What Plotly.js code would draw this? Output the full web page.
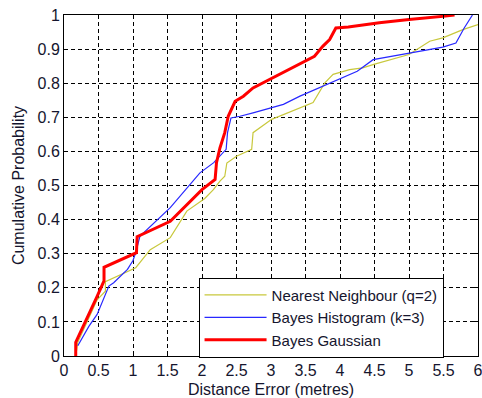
<!DOCTYPE html>
<html>
<head>
<meta charset="utf-8">
<script src="https://cdn.plot.ly/plotly-3.0.1.min.js"></script>
<style>html,body{margin:0;padding:0;background:#fff;}#chart{width:482px;height:398px;}</style>
</head>
<body>
<div id="chart"></div>
<script>
// Series data (x = distance error in metres, y = cumulative probability)
const nnX = [0.17, 0.2, 0.48, 0.6, 0.6, 1.04, 1.25, 1.54, 1.78, 2.04, 2.165, 2.26, 2.33, 2.36, 2.5, 2.72, 2.74, 3.01, 3.61, 3.78, 3.9, 4.14, 4.33, 4.49, 5.0, 5.3, 5.49, 5.78, 6.0];
const nnY = [0, 0.04, 0.165, 0.19, 0.218, 0.259, 0.312, 0.347, 0.425, 0.462, 0.488, 0.513, 0.527, 0.566, 0.586, 0.606, 0.655, 0.694, 0.743, 0.801, 0.826, 0.84, 0.845, 0.855, 0.884, 0.923, 0.933, 0.957, 0.972];

const bhX = [0.2, 0.36, 0.48, 0.65, 0.72, 0.92, 1.0, 1.04, 1.1, 1.54, 1.97, 2.17, 2.35, 2.37, 2.42, 2.55, 2.74, 3.18, 3.42, 3.8, 4.14, 4.25, 4.48, 5.0, 5.49, 5.68, 5.8, 5.92];
const bhY = [0.03, 0.087, 0.122, 0.205, 0.215, 0.254, 0.28, 0.303, 0.351, 0.435, 0.537, 0.567, 0.606, 0.655, 0.698, 0.703, 0.713, 0.738, 0.762, 0.796, 0.826, 0.835, 0.869, 0.889, 0.906, 0.918, 0.962, 1.0];

const bgX = [0.17, 0.17, 0.48, 0.58, 0.58, 1.05, 1.06, 1.54, 2.0, 2.19, 2.21, 2.26, 2.33, 2.38, 2.48, 2.6, 2.74, 2.98, 3.27, 3.51, 3.63, 3.75, 3.85, 3.94, 4.12, 4.57, 5.0, 5.49, 5.66];
const bgY = [0, 0.04, 0.175, 0.22, 0.26, 0.303, 0.35, 0.395, 0.488, 0.518, 0.567, 0.61, 0.655, 0.703, 0.747, 0.762, 0.786, 0.811, 0.84, 0.865, 0.879, 0.908, 0.928, 0.962, 0.965, 0.977, 0.987, 0.996, 1.0];

const seriesNames = ["Nearest Neighbour (q=2)", "Bayes Histogram (k=3)", "Bayes Gaussian"];

const xTickVals = [0, 0.5, 1, 1.5, 2, 2.5, 3, 3.5, 4, 4.5, 5, 5.5, 6];
const xTickText = ["0", "0.5", "1", "1.5", "2", "2.5", "3", "3.5", "4", "4.5", "5", "5.5", "6"];
const yTickVals = [0, 0.1, 0.2, 0.3, 0.4, 0.5, 0.6, 0.7, 0.8, 0.9, 1];
const yTickText = ["0", "0.1", "0.2", "0.3", "0.4", "0.5", "0.6", "0.7", "0.8", "0.9", "1"];

const xTitle = "Distance Error (metres)";
const yTitle = "Cumulative Probability";

const FONT = "Arial, 'Liberation Sans', sans-serif";
const TXT = "#15152e";

const traces = [
  {x: nnX, y: nnY, name: seriesNames[0], mode: "lines", line: {color: "rgb(200,200,60)", width: 1.2}},
  {x: bhX, y: bhY, name: seriesNames[1], mode: "lines", line: {color: "rgb(40,40,255)", width: 1.2}},
  {x: bgX, y: bgY, name: seriesNames[2], mode: "lines", line: {color: "rgb(255,0,0)", width: 3}}
];

const axisCommon = {
  showline: true, linecolor: "#000", linewidth: 1, mirror: "ticks",
  ticks: "inside", ticklen: 4, tickcolor: "#000", tickwidth: 1,
  showgrid: true, gridcolor: "#000", gridwidth: 1, griddash: "4px,3px",
  zeroline: false, ticklabeloverflow: "allow",
  tickfont: {family: FONT, size: 16, color: TXT}
};

const layout = {
  width: 482, height: 398,
  margin: {l: 63.5, r: 3.5, t: 15.3, b: 41.5, pad: 0},
  paper_bgcolor: "#fff", plot_bgcolor: "#fff",
  showlegend: true,
  legend: {
    x: 0.325, y: 0.23, xanchor: "left", yanchor: "top",
    bgcolor: "#fff", bordercolor: "#000", borderwidth: 1,
    font: {family: FONT, size: 15, color: TXT},
    itemwidth: 62, tracegroupgap: 0,
    entrywidth: 275, entrywidthmode: "pixels"
  },
  xaxis: Object.assign({}, axisCommon, {
    range: [0, 6], tickvals: xTickVals, ticktext: xTickText, tickmode: "array",
    title: {text: xTitle, font: {family: FONT, size: 16, color: TXT}, standoff: 6}
  }),
  yaxis: Object.assign({}, axisCommon, {
    range: [0, 1], tickvals: yTickVals, ticktext: yTickText, tickmode: "array",
    title: {text: yTitle, font: {family: FONT, size: 16, color: TXT}, standoff: 8}
  })
};

Plotly.newPlot("chart", traces, layout, {displayModeBar: false, staticPlot: true});
</script>
</body>
</html>
